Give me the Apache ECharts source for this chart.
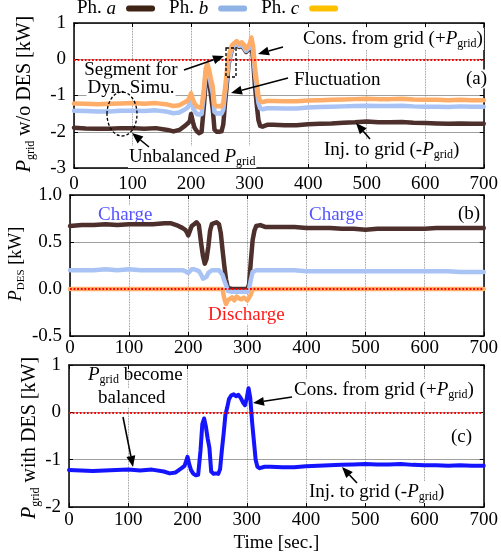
<!DOCTYPE html>
<html>
<head>
<meta charset="utf-8">
<script src="https://cdn.jsdelivr.net/npm/echarts@6/dist/echarts.min.js"></script>
<style>
html,body{margin:0;padding:0;background:#fff;}
#main{width:501px;height:556px;}
</style>
</head>
<body>
<div id="main"></div>
<script>
var FONT = 'Liberation Serif';

// time samples [sec.]
var timeSec = [0,20,40,60,80,100,120,140,160,170,180,190,
    195,198,200,203,206,210,214,218,222,225,228,231,234,237,240,244,248,252,255,258,
    261,264,267,270,274,278,282,286,290,294,297,300,303,306,309,312,315,318,
    322,330,340,360,380,400,420,440,460,480,500,520,540,560,580,600,620,640,660,680,700];

// (a) P_grid w/o DES, per phase [kW]
var noDesA = [-1.89,-1.91,-1.92,-1.92,-1.90,-1.90,-1.92,-1.90,-1.95,-1.99,-1.95,-1.83,
    -1.76,-1.70,-1.51,-1.72,-1.89,-1.99,-2.04,-2.00,-1.28,-0.60,-0.40,-0.62,-1.00,-1.37,-1.94,-2.00,-2.00,-1.99,-1.80,-1.22,
    -0.70,-0.15,0.09,0.28,0.36,0.38,0.34,0.37,0.30,0.20,0.15,0.30,0.46,0.00,-0.72,-1.22,-1.67,-1.84,
    -1.86,-1.81,-1.81,-1.82,-1.82,-1.79,-1.78,-1.77,-1.75,-1.74,-1.72,-1.74,-1.74,-1.73,-1.75,-1.76,-1.77,-1.78,-1.77,-1.78,-1.78];
var noDesB = [-1.42,-1.43,-1.44,-1.44,-1.42,-1.42,-1.43,-1.41,-1.45,-1.49,-1.47,-1.38,
    -1.32,-1.28,-1.11,-1.29,-1.43,-1.51,-1.53,-1.51,-0.95,-0.36,-0.23,-0.43,-0.72,-0.94,-1.45,-1.50,-1.49,-1.50,-1.39,-0.95,
    -0.54,-0.09,0.12,0.31,0.39,0.41,0.37,0.40,0.33,0.23,0.18,0.33,0.51,0.20,-0.38,-0.80,-1.20,-1.35,
    -1.38,-1.35,-1.35,-1.36,-1.36,-1.33,-1.32,-1.31,-1.30,-1.29,-1.28,-1.29,-1.29,-1.28,-1.30,-1.31,-1.31,-1.32,-1.30,-1.31,-1.31];
var noDesC = [-1.22,-1.23,-1.24,-1.23,-1.22,-1.21,-1.23,-1.21,-1.25,-1.29,-1.27,-1.18,
    -1.13,-1.10,-0.94,-1.10,-1.22,-1.30,-1.33,-1.32,-0.80,-0.25,-0.13,-0.30,-0.55,-0.75,-1.25,-1.30,-1.29,-1.30,-1.20,-0.80,
    -0.35,0.11,0.22,0.39,0.45,0.50,0.42,0.47,0.41,0.29,0.25,0.42,0.60,0.36,-0.20,-0.60,-1.00,-1.15,
    -1.18,-1.15,-1.15,-1.16,-1.16,-1.14,-1.13,-1.12,-1.11,-1.10,-1.09,-1.10,-1.10,-1.09,-1.11,-1.12,-1.12,-1.13,-1.12,-1.13,-1.13];

// (b) P_DES, per phase [kW]
var desA = [0.67,0.68,0.68,0.69,0.68,0.69,0.69,0.69,0.70,0.70,0.68,0.65,
    0.63,0.60,0.57,0.62,0.67,0.69,0.71,0.68,0.48,0.35,0.27,0.32,0.45,0.62,0.69,0.70,0.71,0.69,0.60,0.42,
    0.25,0.10,0.01,0.00,0.00,0.00,0.00,0.00,0.00,0.00,0.00,0.00,0.05,0.30,0.52,0.62,0.67,0.69,
    0.68,0.66,0.66,0.66,0.66,0.65,0.65,0.65,0.64,0.64,0.63,0.64,0.64,0.64,0.64,0.64,0.65,0.65,0.65,0.65,0.65];
var desB = [0.20,0.20,0.20,0.21,0.20,0.21,0.20,0.20,0.20,0.20,0.20,0.20,
    0.19,0.18,0.17,0.19,0.21,0.21,0.20,0.19,0.15,0.11,0.10,0.13,0.17,0.19,0.20,0.20,0.20,0.20,0.19,0.15,
    0.09,0.04,-0.02,-0.03,-0.03,-0.03,-0.03,-0.03,-0.03,-0.03,-0.03,-0.03,0.00,0.10,0.18,0.20,0.20,0.20,
    0.20,0.20,0.20,0.20,0.20,0.19,0.19,0.19,0.19,0.19,0.19,0.19,0.19,0.19,0.19,0.19,0.19,0.19,0.18,0.18,0.18];
var desC = [0,0,0,0,0,0,0,0,0,0,0,0,
    0,0,0,0,0,0,0,0,0,0,0,0,0,0,0,0,0,0,0,0,
    -0.10,-0.16,-0.12,-0.11,-0.09,-0.12,-0.08,-0.10,-0.11,-0.09,-0.10,-0.12,-0.09,-0.06,0,0,0,0,
    0,0,0,0,0,0,0,0,0,0,0,0,0,0,0,0,0,0,0,0,0];

// (c) P_grid with DES [kW]
var withDes = [-1.22,-1.23,-1.24,-1.23,-1.22,-1.21,-1.23,-1.21,-1.25,-1.29,-1.27,-1.18,
    -1.13,-1.10,-0.94,-1.10,-1.22,-1.30,-1.33,-1.32,-0.80,-0.25,-0.13,-0.30,-0.55,-0.75,-1.25,-1.30,-1.29,-1.30,-1.20,-0.80,
    -0.45,-0.05,0.10,0.28,0.36,0.38,0.34,0.37,0.30,0.20,0.15,0.30,0.51,0.30,-0.20,-0.60,-1.00,-1.15,
    -1.18,-1.15,-1.15,-1.16,-1.16,-1.14,-1.13,-1.12,-1.11,-1.10,-1.09,-1.10,-1.10,-1.09,-1.11,-1.12,-1.12,-1.13,-1.12,-1.13,-1.13];

// axis ranges [min, max, step]
var xScale = [0, 700, 100];
var yScaleA = [-3, 1, 1];
var yScaleB = [-0.5, 1.0, 0.5];
var yScaleC = [-2, 1, 1];

var phaseNames = ['Ph. a', 'Ph. b', 'Ph. c'];
var phaseColors = ['#4d2f2b', '#a9c3f5', '#fdad68'];
var legendColors = ['#3f2314', '#8fb3e4', '#ffc000'];

function pairs(arr){
    return timeSec.map(function(t, i){ return [t, arr[i]]; });
}

var rich = {
    i: {fontFamily: FONT, fontSize: 19, fontStyle: 'italic', lineHeight: 22},
    s: {fontFamily: FONT, fontSize: 12, verticalAlign: 'bottom', lineHeight: 12},
    t: {fontFamily: FONT, fontSize: 19, lineHeight: 22},
    g: {width: 5}
};
function richTitle(fs){
    return {
        i: {fontFamily: FONT, fontSize: fs, fontStyle: 'italic', lineHeight: fs + 3},
        s: {fontFamily: FONT, fontSize: Math.round(fs * 0.62), verticalAlign: 'bottom', lineHeight: Math.round(fs * 0.62)},
        t: {fontFamily: FONT, fontSize: fs, lineHeight: fs + 3}
    };
}

function xAx(g, bottom, margin){
    return {
        type: 'value', gridIndex: g, min: xScale[0], max: xScale[1], interval: xScale[2],
        position: bottom ? 'bottom' : 'top',
        axisLine: {show: true, onZero: false, lineStyle: {color: '#000', width: 1.5}},
        axisTick: {show: true, inside: true, length: 4, lineStyle: {color: '#000'}},
        axisLabel: {show: bottom, fontFamily: FONT, fontSize: 19, color: '#000', margin: margin},
        splitLine: {show: bottom, lineStyle: {color: '#777', width: 0.8, type: 'dotted'}}
    };
}
function yAx(g, sc, left, fmt){
    return {
        type: 'value', gridIndex: g, min: sc[0], max: sc[1], interval: sc[2],
        position: left ? 'left' : 'right',
        axisLine: {show: true, onZero: false, lineStyle: {color: '#000', width: 1.5}},
        axisTick: {show: true, inside: true, length: 4, lineStyle: {color: '#000'}},
        axisLabel: {show: left, fontFamily: FONT, fontSize: 19, color: '#000', margin: 8, formatter: fmt},
        splitLine: {show: left, lineStyle: {color: '#888', width: 0.8}}
    };
}
function fmtInt(v){ return String(v); }
function fmt1(v){ return v.toFixed(1); }

var zeroLine = {
    silent: true, symbol: 'none', label: {show: false},
    lineStyle: {color: '#ff0000', type: 'dotted', width: 1.8},
    data: [{yAxis: 0}]
};

function phaseSeries(g, arrs, withZero){
    return arrs.map(function(arr, k){
        var s = {
            name: phaseNames[k], type: 'line', xAxisIndex: g * 2, yAxisIndex: g * 2,
            data: pairs(arr), showSymbol: false, symbol: 'none', animation: false,
            lineStyle: {color: phaseColors[k], width: 4.5, cap: 'round', join: 'round'},
            itemStyle: {color: phaseColors[k]}
        };
        if (withZero && k === 2) s.markLine = zeroLine;
        return s;
    });
}

var series = [].concat(
    phaseSeries(0, [noDesA, noDesB, noDesC], true),
    phaseSeries(1, [desA, desB, desC], true),
    [{
        name: 'with DES', type: 'line', xAxisIndex: 4, yAxisIndex: 4,
        data: pairs(withDes), showSymbol: false, symbol: 'none', animation: false,
        lineStyle: {color: '#1414ff', width: 4, cap: 'round', join: 'round'},
        itemStyle: {color: '#1414ff'},
        markLine: zeroLine
    }]
);

// annotations
function note(x, y, text, opt){
    opt = opt || {};
    return {
        type: 'text', x: x, y: y, z: 1,
        style: {
            text: text, fontFamily: FONT, fontSize: 19, fill: opt.color || '#000',
            align: opt.align || 'left', verticalAlign: 'middle',
            backgroundColor: opt.bg === false ? 'transparent' : '#fff', padding: [0, 1],
            rich: rich
        }
    };
}
// vertical axis title, centred on (x, y)
function yTitle(x, y, text, fs){
    return {
        type: 'text', x: x, y: y, rotation: Math.PI / 2, z: 1,
        style: {
            text: text, fontFamily: FONT, fontSize: fs, fill: '#000',
            align: 'center', verticalAlign: 'middle', rich: richTitle(fs)
        }
    };
}
function arrow(x1, y1, x2, y2){
    var a = Math.atan2(y2 - y1, x2 - x1), L = 11, W = 4.5;
    var bx = x2 - L * Math.cos(a), by = y2 - L * Math.sin(a);
    var px = -Math.sin(a) * W, py = Math.cos(a) * W;
    return [
        {type: 'line', z: 10, shape: {x1: x1, y1: y1, x2: bx, y2: by}, style: {stroke: '#000', lineWidth: 1.6}},
        {type: 'polygon', z: 10, shape: {points: [[x2, y2], [bx + px, by + py], [bx - px, by - py]]}, style: {fill: '#000'}}
    ];
}
var graphics = [].concat(
    [
        yTitle(25, 94, '{i|P}{s|grid}{t| w/o DES [kW]}', 20),
        yTitle(16, 264, '{i|P}{s|DES}{t| [kW]}', 18),
        yTitle(30, 438, '{i|P}{s|grid}{t| with DES [kW]}', 20),
        note(302, 39, 'Cons. from grid (+{i|P}{s|grid})'),
        note(131, 70, 'Segment for', {align: 'center'}),
        note(131, 88, 'Dyn. Simu.', {align: 'center'}),
        note(293, 80, 'Fluctuation'),
        note(465, 79, '(a)'),
        note(128, 157, 'Unbalanced {i|P}{s|grid}'),
        note(323, 150, 'Inj. to grid (-{i|P}{s|grid})'),
        {type: 'ellipse', z: 10, shape: {cx: 122, cy: 114, rx: 15, ry: 22},
            style: {fill: 'none', stroke: '#000', lineWidth: 1.3, lineDash: [3, 2]}},
        {type: 'rect', z: 10, shape: {x: 226, y: 48, width: 10, height: 29},
            style: {fill: 'none', stroke: '#000', lineWidth: 1.3, lineDash: [3, 2]}},
        note(97, 215, 'Charge', {color: '#5555ff'}),
        note(308, 215, 'Charge', {color: '#5555ff'}),
        note(457, 214, '(b)'),
        note(207, 315, 'Discharge', {color: '#ff1a1a'}),
        note(87, 375, '{i|P}{s|grid} become', {bg: false}),
        note(97, 398, 'balanced'),
        note(293, 390, 'Cons. from grid (+{i|P}{s|grid})'),
        note(450, 437, '(c)'),
        note(308, 492, 'Inj. to grid (-{i|P}{s|grid})')
    ],
    arrow(283, 47, 258, 54),
    arrow(184, 70, 224, 56),
    arrow(288, 78, 231, 93),
    arrow(149, 147, 132, 133),
    arrow(370, 139, 356, 123),
    arrow(123, 417, 133, 467),
    arrow(292, 397, 253, 403),
    arrow(357, 483, 342, 467)
);

var chart = echarts.init(document.getElementById('main'));
var option = {
    backgroundColor: '#fff',
    animation: false,
    textStyle: {fontFamily: FONT, color: '#000'},
    legend: {
        top: -1, left: 77, padding: 0, itemGap: 14, itemWidth: 29, itemHeight: 6, align: 'right',
        icon: 'path://M3,0 L27,0 A3,3 0 0 1 27,6 L3,6 A3,3 0 0 1 3,0 Z',
        data: phaseNames.map(function(n, k){ return {name: n, itemStyle: {color: legendColors[k]}}; }),
        formatter: function(n){ return 'Ph. {i|' + n.slice(-1) + '}{g|}'; },
        textStyle: {fontFamily: FONT, fontSize: 19, color: '#000', rich: rich}
    },
    grid: [
        {left: 74, right: 8, top: 23, height: 145},
        {left: 70, right: 12, top: 195, height: 141},
        {left: 69, right: 12, top: 365, height: 142}
    ],
    xAxis: [
        xAx(0, true, 7), xAx(0, false),
        xAx(1, true, 3), xAx(1, false),
        Object.assign(xAx(2, true, 4), {
            name: 'Time [sec.]', nameLocation: 'middle', nameGap: 27,
            nameTextStyle: {fontFamily: FONT, fontSize: 19, color: '#000'}
        }), xAx(2, false)
    ],
    yAxis: [
        yAx(0, yScaleA, true, fmtInt), yAx(0, yScaleA, false),
        yAx(1, yScaleB, true, fmt1), yAx(1, yScaleB, false),
        yAx(2, yScaleC, true, fmtInt), yAx(2, yScaleC, false)
    ],
    series: series,
    graphic: graphics
};
chart.setOption(option);
</script>
</body>
</html>
